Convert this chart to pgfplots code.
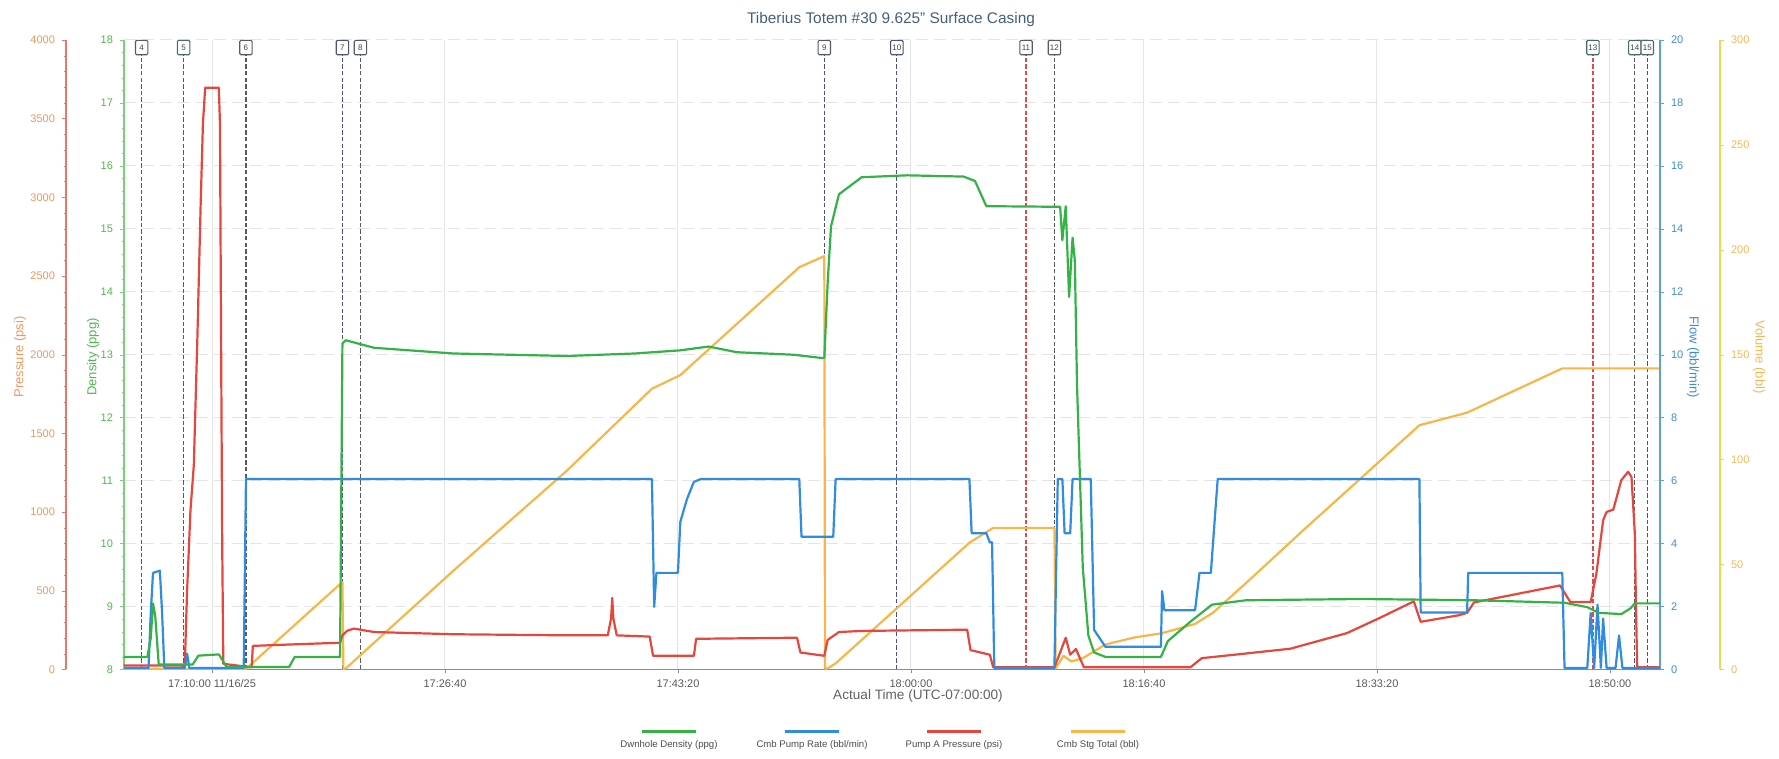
\documentclass[border=0pt]{standalone}
\usepackage{pgfplots}
\pgfplotsset{compat=1.18}
\usepackage{fontspec}
\setmainfont{Liberation Sans}
\definecolor{cDen}{RGB}{52,178,70}
\definecolor{cFlow}{RGB}{48,140,222}
\definecolor{cPres}{RGB}{230,70,60}
\definecolor{cVol}{RGB}{248,182,72}
\definecolor{cPresAx}{RGB}{226,120,110}
\definecolor{cPresTx}{RGB}{240,150,95}
\definecolor{cDenAx}{RGB}{120,208,120}
\definecolor{cDenTx}{RGB}{80,185,80}
\definecolor{cFlowAx}{RGB}{90,160,222}
\definecolor{cFlowTx}{RGB}{60,140,215}
\definecolor{cVolAx}{RGB}{240,215,80}
\definecolor{cVolTx}{RGB}{240,185,85}
\definecolor{cTitle}{RGB}{70,95,120}
\definecolor{cGrid}{RGB}{228,228,228}
\definecolor{cMk}{RGB}{85,90,100}
\definecolor{cMkB}{RGB}{75,80,135}
\definecolor{cMkR}{RGB}{228,72,72}
\definecolor{cMkT}{RGB}{70,105,105}
\newcommand{\tf}{\fontsize{5.5}{6}\selectfont}
\newcommand{\af}{\fontsize{6.5}{7.5}\selectfont}
\newcommand{\lf}{\fontsize{4.8}{5.5}\selectfont}
\tikzset{
  mkbox/.style={draw=#1, fill=white, line width=0.55pt, rounded corners=0.6pt, minimum width=6.2pt,
    minimum height=7.2pt, inner sep=0pt, font=\fontsize{4}{4}\selectfont, text=black!75},
  mk/.style={#1, line width=0.6pt, dash pattern=on 2.2pt off 1.1pt},
  dat/.style={#1, line width=1.1pt, line join=round}
}
\begin{document}
\begin{tikzpicture}
\useasboundingbox (-62pt,-44.75pt) rectangle (827.5pt,334.75pt);
\pgfplotsset{
  base/.style={scale only axis, width=768pt, height=314.75pt, at={(0pt,0pt)}, anchor=south west,
    xmin=3.705, xmax=113.58,
    /pgf/number format/assume math mode=true, /pgf/number format/1000 sep={},
    tick label style={font=\tf}, major tick length=2pt, minor tick length=1.2pt, tick align=outside},
  yonly/.style={scale only axis, width=10pt, height=314.75pt, xmin=0, xmax=1, axis x line=none,
    /pgf/number format/assume math mode=true, /pgf/number format/1000 sep={},
    tick label style={font=\tf}, major tick length=2pt, minor tick length=1.2pt, tick align=outside}
}
% ---------- A: main density axis with grid and markers
\begin{axis}[base, ymin=8, ymax=18, ytick={8,...,18}, minor y tick num=4,
  axis x line*=bottom, axis y line*=left,
  x axis line style={draw=black!45, -}, y axis line style={draw=cDenAx, line width=0.6pt, -},
  ytick style={draw=cDenAx}, yticklabel style={text=cDenTx},
  xtick={10,26.6667,43.3333,60,76.6667,93.3333,110},
  xticklabels={17:10:00 11/16/25,17:26:40,17:43:20,18:00:00,18:16:40,18:33:20,18:50:00},
  xticklabel style={text=black!65, yshift=0.3pt},
  minor x tick num=9,
  xtick style={draw=black!45}, minor x tick style={draw=black!35, line width=0.4pt},
  xmajorgrids, ymajorgrids,
  major x grid style={draw=cGrid, line width=0.5pt},
  major y grid style={draw=cGrid, line width=0.5pt, dash pattern=on 6pt off 3pt}]
\addplot[mk=cMk]  coordinates {(4.97,8) (4.97,17.76)};
\addplot[mk=cMk]  coordinates {(7.97,8) (7.97,17.76)};
\addplot[mk=cMk]  coordinates {(12.43,8) (12.43,17.76)};
\addplot[mk=cMkB] coordinates {(19.33,8) (19.33,17.76)};
\addplot[mk=cMk]  coordinates {(20.62,8) (20.62,17.76)};
\addplot[mk=cMkB] coordinates {(53.80,8) (53.80,17.76)};
\addplot[mk=cMkB] coordinates {(58.99,8) (58.99,17.76)};
\addplot[mk=cMkR] coordinates {(68.23,8) (68.23,17.76)};
\addplot[mk=cMk]  coordinates {(70.26,8) (70.26,17.76)};
\addplot[mk=cMkR] coordinates {(108.78,8) (108.78,17.76)};
\addplot[mk=cMk]  coordinates {(111.78,8) (111.78,17.76)};
\addplot[mk=cMkB] coordinates {(112.67,8) (112.67,17.76)};
\end{axis}
% ---------- B: volume data
\begin{axis}[base, ymin=0, ymax=300, hide axis]
\addplot[dat=cVol] coordinates {
(3.70,0.3) (12.43,0.3) (19.33,41.7) (19.40,0.3) (19.57,0.5) (27.27,47.1) (35.39,94.8) (41.47,133.8)
(43.50,140.3) (52.01,191.7) (53.80,197) (53.85,0.5) (54.04,0.5) (54.61,2.9) (64.18,60.4) (65.88,67.5)
(70.26,67.5) (70.35,0.5) (70.91,6.5) (71.48,3.8) (72.29,5.4) (73.91,11.9) (75.94,15.2) (77.96,17.3)
(80.32,21.7) (81.61,27.1) (84.05,41.7) (88.10,66.6) (92.16,91.0) (96.37,116.4) (99.78,122.4)
(106.59,143.5) (113.58,143.5)};
\end{axis}
% ---------- C: pressure data
\begin{axis}[base, ymin=0, ymax=4000, hide axis]
\addplot[dat=cPres] coordinates {
(3.70,25) (7.81,25) (8.05,20) (8.22,505) (8.46,1011) (8.70,1300) (8.95,2094) (9.19,2960) (9.35,3466)
(9.51,3697) (10.49,3697) (10.57,3466) (10.65,2094) (10.73,794) (10.81,36) (12.84,14) (12.92,150)
(15.92,160) (19.16,170) (19.33,217) (19.65,245) (20.14,260) (21.60,238) (27.27,224) (35.39,217)
(38.31,217) (38.55,325) (38.63,455) (38.71,325) (38.95,217) (41.31,209) (41.55,87) (44.47,87)
(44.63,195) (51.85,202) (52.09,108) (53.80,87) (54.04,188) (54.85,238) (56.47,245) (64.02,253)
(64.26,123) (65.64,94) (65.88,14) (70.26,14) (70.67,108) (71.07,202) (71.39,94) (71.80,130)
(72.37,14) (79.99,14) (80.80,72) (83.15,94) (87.13,132) (91.18,231) (93.54,328) (95.97,433)
(96.46,303) (99.21,345) (99.78,360) (100.27,426) (106.43,534) (107.16,429) (108.62,429) (109.03,609)
(109.51,948) (109.76,1001) (110.24,1016) (110.81,1203) (111.30,1256) (111.54,1224) (111.78,863)
(111.86,400) (111.95,14) (113.58,14)};
\end{axis}
% ---------- D: flow axis and data
\begin{axis}[base, ymin=0, ymax=20, ytick={0,2,...,20},
  axis x line=none, axis y line*=right,
  y axis line style={draw=cFlowAx, line width=0.6pt, -},
  ytick style={draw=cFlowAx}, yticklabel style={text=cFlowTx}]
\addplot[dat=cFlow] coordinates {
(3.70,0.05) (5.46,0.05) (5.62,1.8) (5.78,3.07) (6.27,3.14) (6.43,1.8) (6.59,0.05) (8.05,0.05)
(8.22,0.5) (8.38,0.05) (12.27,0.05) (12.43,6.05) (41.47,6.05) (41.63,1.99) (41.79,3.07) (43.33,3.07)
(43.50,4.69) (43.98,5.42) (44.47,5.96) (44.96,6.05) (52.01,6.05) (52.17,4.22) (54.44,4.22)
(54.61,6.05) (64.18,6.05) (64.34,4.33) (65.39,4.33) (65.64,4.04) (65.80,4.04) (65.96,0.05)
(70.26,0.05) (70.50,6.05) (70.83,6.05) (70.99,4.33) (71.39,4.33) (71.56,6.05) (72.86,6.05)
(73.10,1.26) (73.91,0.72) (77.88,0.72) (77.96,2.49) (78.13,1.88) (80.32,1.88) (80.64,3.07)
(81.45,3.07) (81.94,6.05) (96.37,6.05) (96.46,1.81) (99.78,1.81) (99.86,3.07) (106.59,3.07)
(106.75,0.05) (108.38,0.05) (108.62,1.8) (108.87,0.05) (109.11,2.06) (109.35,0.05) (109.51,1.62)
(109.76,0.05) (110.40,0.05) (110.65,1.08) (110.89,0.05) (113.58,0.05)};
\end{axis}
% ---------- E: density data and marker boxes
\begin{axis}[base, ymin=8, ymax=18, hide axis, clip=false]
\addplot[dat=cDen] coordinates {
(3.70,8.20) (5.38,8.20) (5.62,8.50) (5.78,9.05) (5.94,8.85) (6.19,8.08) (8.62,8.08) (9.03,8.22)
(10.49,8.24) (11.05,8.04) (15.52,8.04) (15.92,8.20) (19.16,8.20) (19.33,13.18) (19.57,13.23)
(21.60,13.11) (27.27,13.02) (31.33,13.00) (35.39,12.98) (40.25,13.02) (43.50,13.07) (45.52,13.13)
(47.55,13.04) (51.61,13.00) (53.55,12.95) (53.80,12.95) (54.04,14.14) (54.28,15.04) (54.85,15.55)
(56.47,15.82) (59.72,15.85) (63.77,15.83) (64.58,15.76) (65.39,15.36) (70.67,15.35) (70.83,14.82)
(71.07,15.36) (71.31,13.92) (71.56,14.86) (71.72,14.50) (71.88,12.5) (72.29,9.62) (72.69,8.54)
(73.10,8.27) (73.91,8.20) (77.88,8.20) (78.37,8.45) (79.99,8.76) (81.53,9.03) (83.97,9.10)
(92.16,9.12) (100.27,9.10) (106.75,9.06) (108.38,8.99) (109.19,8.90) (110.81,8.88) (111.46,8.97)
(111.78,9.05) (113.58,9.05)};
\node[mkbox=cMk]  at (axis cs:4.97,17.88) {4};
\node[mkbox=cMkT] at (axis cs:7.97,17.88) {5};
\node[mkbox=cMk]  at (axis cs:12.43,17.88) {6};
\node[mkbox=cMkB] at (axis cs:19.33,17.88) {7};
\node[mkbox=cMk]  at (axis cs:20.62,17.88) {8};
\node[mkbox=cMk]  at (axis cs:53.80,17.88) {9};
\node[mkbox=cMkB] at (axis cs:58.99,17.88) {10};
\node[mkbox=cMk]  at (axis cs:68.23,17.88) {11};
\node[mkbox=cMk]  at (axis cs:70.26,17.88) {12};
\node[mkbox=cMkT] at (axis cs:108.78,17.88) {13};
\node[mkbox=cMkT] at (axis cs:111.78,17.88) {14};
\node[mkbox=cMkT] at (axis cs:112.67,17.88) {15};
\end{axis}
% ---------- pressure tick axis (offset left)
\begin{axis}[yonly, at={(-29pt,0pt)}, anchor=south west, ymin=0, ymax=4000,
  ytick={0,500,...,4000}, minor y tick num=4, axis y line*=left,
  y axis line style={draw=cPresAx, line width=0.6pt, -}, ytick style={draw=cPresAx},
  yticklabel style={text=cPresTx}]
\addplot[draw=none] coordinates {(0.5,0)};
\end{axis}
% ---------- volume tick axis (offset right)
\begin{axis}[yonly, at={(798pt,0pt)}, anchor=south east, ymin=0, ymax=300,
  ytick={0,50,...,300}, axis y line*=right,
  y axis line style={draw=cVolAx, line width=0.6pt, -}, ytick style={draw=cVolAx},
  yticklabel style={text=cVolTx}]
\addplot[draw=none] coordinates {(0.5,0)};
\end{axis}
% ---------- titles
\node[font=\fontsize{7.7}{8.5}\selectfont, text=cTitle] at (383.5pt,325pt) {Tiberius Totem \#30 9.625'' Surface Casing};
\node[font=\fontsize{6.8}{7.5}\selectfont, text=black!62] at (397pt,-13.3pt) {Actual Time (UTC-07:00:00)};
\node[rotate=90, font=\af, text=cPresTx] at (-52pt,156.25pt) {Pressure (psi)};
\node[rotate=90, font=\af, text=cDenTx] at (-15.5pt,156.25pt) {Density (ppg)};
\node[rotate=-90, font=\af, text=cFlowTx] at (784.5pt,156.25pt) {Flow (bbl/min)};
\node[rotate=-90, font=\af, text=cVolTx] at (817.5pt,156.25pt) {Volume (bbl)};
% ---------- legend
\draw[cDen, line width=1.1pt] (259pt,-31pt) -- (286pt,-31pt);
\node[font=\lf, text=black!70] at (272.5pt,-38pt) {Dwnhole Density (ppg)};
\draw[cFlow, line width=1.1pt] (330.5pt,-31pt) -- (357.5pt,-31pt);
\node[font=\lf, text=black!70] at (344pt,-38pt) {Cmb Pump Rate (bbl/min)};
\draw[cPres, line width=1.1pt] (401.5pt,-31pt) -- (428.5pt,-31pt);
\node[font=\lf, text=black!70] at (415pt,-38pt) {Pump A Pressure (psi)};
\draw[cVol, line width=1.1pt] (473.5pt,-31pt) -- (500.5pt,-31pt);
\node[font=\lf, text=black!70] at (487pt,-38pt) {Cmb Stg Total (bbl)};
\end{tikzpicture}
\end{document}
